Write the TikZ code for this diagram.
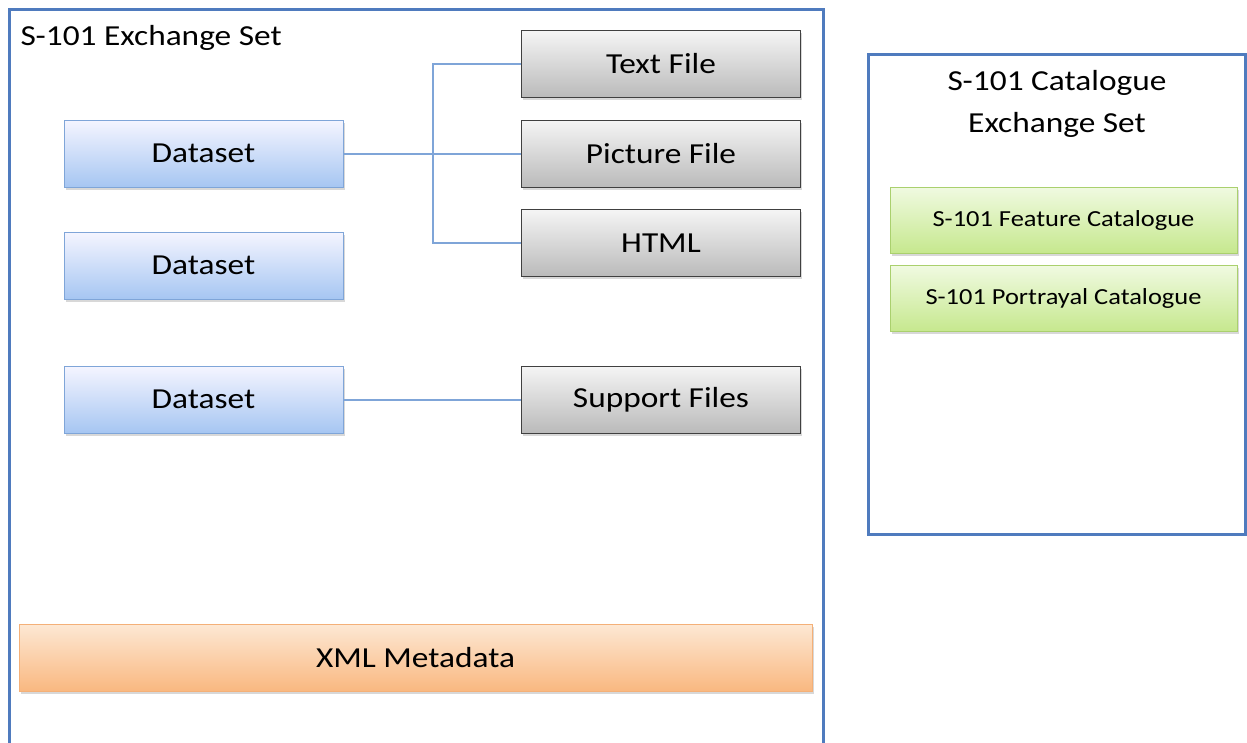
\documentclass[tikz,border=0pt]{standalone}
\usepackage{fontspec}
\setmainfont[FakeStretch=1.15]{Carlito}
\usetikzlibrary{positioning,shadows}

\definecolor{frameblue}{HTML}{4F7BBE}
\definecolor{linkblue}{HTML}{7FA5D8}
\tikzset{
  box/.style={rectangle, minimum width=279pt, minimum height=67pt, inner sep=0pt, line width=1pt,
    font=\fontsize{29}{34}\selectfont, drop shadow={shadow xshift=1.5pt, shadow yshift=-2.5pt, opacity=.3}},
  dataset/.style={box, draw=linkblue, top color=blue!4!white, bottom color={rgb,255:red,166;green,198;blue,242}},
  filebox/.style={box, draw=black!75, top color=black!4, bottom color=black!27},
  catbox/.style={box, minimum width=347pt, minimum height=66pt, font=\fontsize{23}{28}\selectfont,
    draw={rgb,255:red,170;green,208;blue,110}, top color={rgb,255:red,240;green,250;blue,225}, bottom color={rgb,255:red,198;green,232;blue,142}},
  metabox/.style={box, minimum width=793pt, draw={rgb,255:red,244;green,176;blue,120},
    top color={rgb,255:red,253;green,232;blue,212}, bottom color={rgb,255:red,249;green,184;blue,128}},
  frame/.style={draw=frameblue, line width=3pt},
  link/.style={draw=linkblue, line width=2pt}
}

\begin{document}
\begin{tikzpicture}[x=1pt, y=-1pt]
\useasboundingbox (0,0) rectangle (1247,742);
\clip (0,0) rectangle (1247,742);
% the two sets
\draw[frame, fill=white] (9,9) rectangle (823,770);
\draw[frame, fill=white] (868,54) rectangle (1245,534);
\node[anchor=west, font=\fontsize{29}{34}\selectfont] (extitle) at (17,38) {S-101 Exchange Set};
\node[align=center, font=\fontsize{29}{42}\selectfont] (cattitle) at (1057,104) {S-101 Catalogue\\Exchange Set};
% datasets and files
\node[dataset] (ds1) at (203.5,153.5) {Dataset};
\node[dataset] (ds2) at (203.5,265.5) {Dataset};
\node[dataset] (ds3) at (203.5,399.5) {Dataset};
\node[filebox] (txt) at (661,64) {Text File};
\node[filebox] (pic) at (661,153.5) {Picture File};
\node[filebox] (html) at (661,243) {HTML};
\node[filebox] (sup) at (661,399.5) {Support Files};
\node[metabox] (meta) at (415.5,657.5) {XML Metadata};
\node[catbox] (fc) at (1063.5,220) {S-101 Feature Catalogue};
\node[catbox] (pc) at (1063.5,298.5) {S-101 Portrayal Catalogue};
% connectors
\coordinate (fork) at (433,153.5);
\path[link] (ds1.east) -- (pic.west)
            (txt.west) -| (fork) |- (html.west)
            (ds3.east) -- (sup.west);
\end{tikzpicture}
\end{document}
